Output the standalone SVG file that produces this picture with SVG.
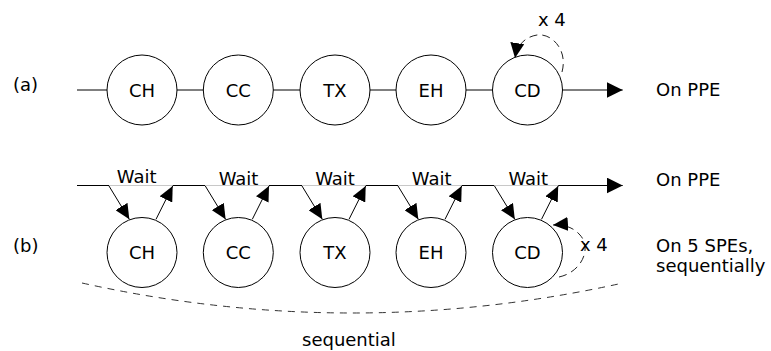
<svg xmlns="http://www.w3.org/2000/svg" width="771" height="351" viewBox="0 0 771 351">
  <style>
    text { font-family: "DejaVu Sans", "Liberation Sans", sans-serif; font-size: 18px; fill: #000; }
    .node circle { fill: #fff; stroke: #000; stroke-width: 1; }
    .node text { text-anchor: middle; }
    .wire { stroke: #000; stroke-width: 1; fill: none; }
    .wait { stroke: #c8c8c8; stroke-width: 1; fill: none; }
    .loop { stroke: #222; stroke-width: 1; fill: none; stroke-dasharray: 8 5; }
    .span { stroke: #333; stroke-width: 1; fill: none; stroke-dasharray: 7 6; }
    .lbl-w { text-anchor: middle; }
  </style>
  <defs>
    <marker id="head" markerUnits="userSpaceOnUse" markerWidth="16" markerHeight="16" refX="16" refY="8" orient="auto">
      <path d="M0,0 L16,8 L0,16 z" fill="#000"/>
    </marker>
    <marker id="head-s" markerUnits="userSpaceOnUse" markerWidth="15" markerHeight="14" refX="15" refY="7" orient="auto">
      <path d="M0,0 L15,7 L0,14 z" fill="#000"/>
    </marker>
  </defs>

  <!-- side labels -->
  <text x="13" y="91">(a)</text>
  <text x="13" y="252">(b)</text>
  <text x="656" y="96">On PPE</text>
  <text x="656" y="186">On PPE</text>
  <text x="656" y="252">On 5 SPEs,</text>
  <text x="656" y="272">sequentially</text>
  <text x="302" y="346">sequential</text>

  <!-- connectors -->
  <g id="connectors">
    <!-- (a) pipeline on PPE -->
    <line class="wire" x1="77" y1="90" x2="563" y2="90"/>
    <line class="wire" x1="563" y1="90" x2="622.7" y2="90" marker-end="url(#head)"/>
    <path class="loop" d="M562,72 C568,50 552,33 537,35 C525,37 517,45 515,58" marker-end="url(#head-s)"/>
    <text x="538" y="26">x 4</text>

    <!-- (b) PPE timeline with waits -->
    <line class="wire" x1="77" y1="185.5" x2="109" y2="185.5"/>
    <line class="wait" x1="109" y1="185.5" x2="172.7" y2="185.5"/>
    <line class="wire" x1="172.7" y1="185.5" x2="205.3" y2="185.5"/>
    <line class="wait" x1="205.3" y1="185.5" x2="269" y2="185.5"/>
    <line class="wire" x1="269" y1="185.5" x2="302" y2="185.5"/>
    <line class="wait" x1="302" y1="185.5" x2="365.7" y2="185.5"/>
    <line class="wire" x1="365.7" y1="185.5" x2="398" y2="185.5"/>
    <line class="wait" x1="398" y1="185.5" x2="461.7" y2="185.5"/>
    <line class="wire" x1="461.7" y1="185.5" x2="494.5" y2="185.5"/>
    <line class="wait" x1="494.5" y1="185.5" x2="558.2" y2="185.5"/>
    <line class="wire" x1="558.2" y1="185.5" x2="622.7" y2="185.5" marker-end="url(#head)"/>

    <text class="lbl-w" x="136.7" y="183">Wait</text>
    <text class="lbl-w" x="238.5" y="185">Wait</text>
    <text class="lbl-w" x="335" y="185">Wait</text>
    <text class="lbl-w" x="431.7" y="185">Wait</text>
    <text class="lbl-w" x="528.3" y="185">Wait</text>

    <!-- dispatch / return arrows -->
    <line class="wire" x1="109" y1="186" x2="129.3" y2="219.3" marker-end="url(#head-s)"/>
    <line class="wire" x1="156" y1="219.3" x2="172.7" y2="186" marker-end="url(#head-s)"/>
    <line class="wire" x1="205.3" y1="186" x2="225.6" y2="219.3" marker-end="url(#head-s)"/>
    <line class="wire" x1="252.3" y1="219.3" x2="269" y2="186" marker-end="url(#head-s)"/>
    <line class="wire" x1="302" y1="186" x2="322.3" y2="219.3" marker-end="url(#head-s)"/>
    <line class="wire" x1="349" y1="219.3" x2="365.7" y2="186" marker-end="url(#head-s)"/>
    <line class="wire" x1="398" y1="186" x2="418.3" y2="219.3" marker-end="url(#head-s)"/>
    <line class="wire" x1="445" y1="219.3" x2="461.7" y2="186" marker-end="url(#head-s)"/>
    <line class="wire" x1="494.5" y1="186" x2="514.8" y2="219.3" marker-end="url(#head-s)"/>
    <line class="wire" x1="541.5" y1="219.3" x2="558.2" y2="186" marker-end="url(#head-s)"/>

    <path class="loop" d="M559,277 C582,272 592,248 580,235 C575,229 566,224 553,225" marker-end="url(#head-s)"/>
    <text x="580" y="251">x 4</text>

    <!-- span of the sequential SPE stage -->
    <path class="span" d="M82,283 Q352,343 623,283"/>
  </g>

  <!-- (a) nodes -->
  <g id="a-ch" class="node"><circle cx="142" cy="90" r="35"/><text x="142" y="96.5">CH</text></g>
  <g id="a-cc" class="node"><circle cx="238.3" cy="90" r="35"/><text x="238.3" y="96.5">CC</text></g>
  <g id="a-tx" class="node"><circle cx="335" cy="90" r="35"/><text x="335" y="96.5">TX</text></g>
  <g id="a-eh" class="node"><circle cx="431" cy="90" r="35"/><text x="431" y="96.5">EH</text></g>
  <g id="a-cd" class="node"><circle cx="527.5" cy="90" r="35"/><text x="527.5" y="96.5">CD</text></g>

  <!-- (b) nodes -->
  <g id="b-ch" class="node"><circle cx="142" cy="252.5" r="35"/><text x="142" y="259">CH</text></g>
  <g id="b-cc" class="node"><circle cx="238.3" cy="252.5" r="35"/><text x="238.3" y="259">CC</text></g>
  <g id="b-tx" class="node"><circle cx="335" cy="252.5" r="35"/><text x="335" y="259">TX</text></g>
  <g id="b-eh" class="node"><circle cx="431" cy="252.5" r="35"/><text x="431" y="259">EH</text></g>
  <g id="b-cd" class="node"><circle cx="527.5" cy="252.5" r="35"/><text x="527.5" y="259">CD</text></g>
</svg>
